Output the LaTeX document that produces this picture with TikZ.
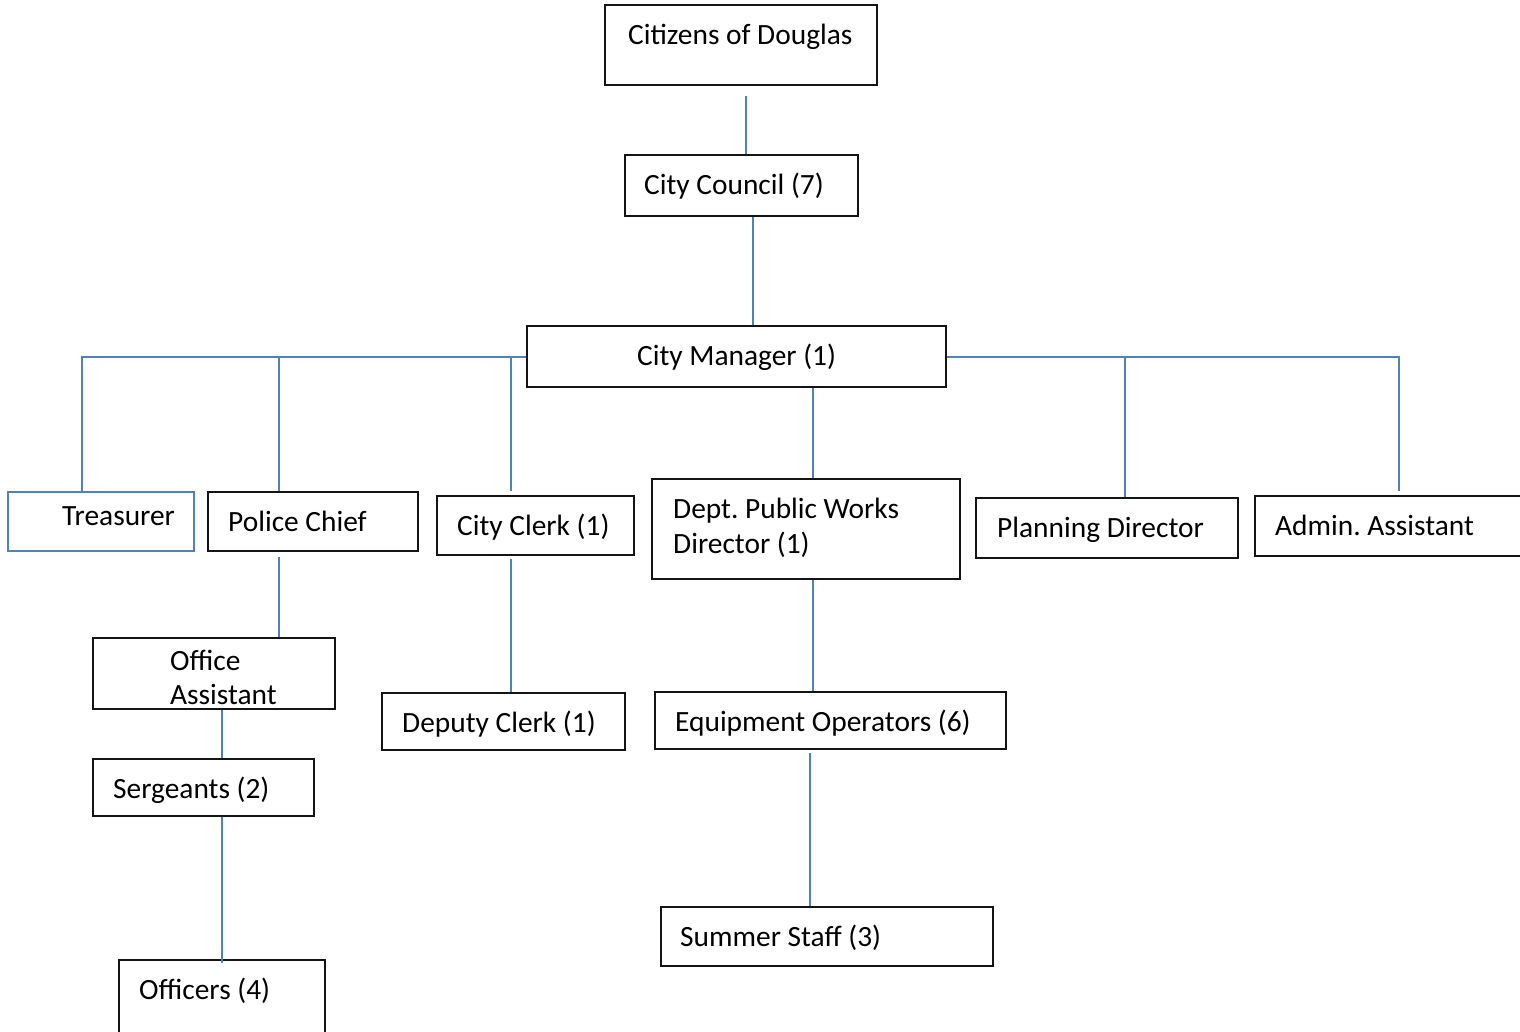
\documentclass[tikz,border=0pt]{standalone}
\usepackage{fontspec}
\setmainfont{Carlito}
\frenchspacing
\definecolor{connblue}{RGB}{79,129,189}
\definecolor{boxline}{RGB}{20,20,20}
\begin{document}
\begin{tikzpicture}[x=1pt,y=-1pt,
  orgbox/.style={draw=boxline,line width=1.4pt,rectangle,inner sep=0pt},
  conn/.style={draw=connblue,line width=2pt},
  lbl/.style={anchor=base west,inner sep=0pt,font=\fontsize{29.4}{35}\selectfont}]
\useasboundingbox (0,0) rectangle (1520,1031);
\clip (0,0) rectangle (1520,1031);
% boxes
\node[orgbox,minimum width=272pt,minimum height=80pt] (cit) at (741,45) {};
\node[orgbox,minimum width=233pt,minimum height=61pt] (cc) at (741.5,185.5) {};
\node[orgbox,minimum width=419pt,minimum height=61pt] (cm) at (736.5,356.5) {};
\node[orgbox,draw=connblue,minimum width=186pt,minimum height=59pt] (tr) at (101,521.5) {};
\node[orgbox,minimum width=210pt,minimum height=59pt] (pc) at (313,521.5) {};
\node[orgbox,minimum width=197pt,minimum height=59pt] (ck) at (535.5,525.5) {};
\node[orgbox,minimum width=308pt,minimum height=100pt] (dpw) at (806,529) {};
\node[orgbox,minimum width=262pt,minimum height=60pt] (pd) at (1107,528) {};
\node[orgbox,minimum width=285pt,minimum height=60pt] (aa) at (1397.5,526) {};
\node[orgbox,minimum width=242pt,minimum height=71pt] (oa) at (214,673.5) {};
\node[orgbox,minimum width=221pt,minimum height=57pt] (sg) at (203.5,787.5) {};
\node[orgbox,minimum width=206pt,minimum height=90pt] (of) at (222,1005) {};
\node[orgbox,minimum width=243pt,minimum height=57pt] (dc) at (503.5,721.5) {};
\node[orgbox,minimum width=351pt,minimum height=57pt] (eo) at (830.5,720.5) {};
\node[orgbox,minimum width=332pt,minimum height=59pt] (ss) at (827,936.5) {};
% labels
\node[lbl] (tcit) at (628,44) {Citizens of Douglas};
\node[lbl] (tcc) at (644,194) {City Council (7)};
\node[lbl] (tcm) at (637,365) {City Manager (1)};
\node[lbl] (ttr) at (62,525) {Treasurer};
\node[lbl] (tpc) at (228,531) {Police Chief};
\node[lbl] (tck) at (457,535) {City Clerk (1)};
\node[lbl] (tdpw1) at (673,518) {Dept. Public Works};
\node[lbl] (tdpw2) at (673,553) {Director (1)};
\node[lbl] (tpd) at (997,537) {Planning Director};
\node[lbl] (taa) at (1275,535) {Admin. Assistant};
\node[lbl] (toa1) at (170,670) {Office};
\node[lbl] (toa2) at (170,704) {Assistant};
\node[lbl] (tsg) at (113,798) {Sergeants (2)};
\node[lbl] (tof) at (139,999) {Officers (4)};
\node[lbl] (tdc) at (402,732) {Deputy Clerk (1)};
\node[lbl] (teo) at (675,731) {Equipment Operators (6)};
\node[lbl] (tss) at (680,946) {Summer Staff (3)};
% connectors
\draw[conn] ([xshift=5pt,yshift=-10pt]cit.south) -- ([xshift=4.5pt]cc.north);
\draw[conn] ([xshift=11.5pt]cc.south) -- ([xshift=16.5pt]cm.north);
\draw[conn] (cm.west) -| ([xshift=-19pt]tr.north);
\draw[conn] ([xshift=-34pt]pc.north) |- (cm.west);
\draw[conn] ([xshift=-24.5pt,yshift=4pt]ck.north) |- (cm.west);
\draw[conn] ([xshift=76.5pt]cm.south) -- ([xshift=7pt]dpw.north);
\draw[conn] (cm.east) -| ([xshift=1.5pt,yshift=4pt]aa.north);
\draw[conn] ([xshift=18pt]pd.north) |- (cm.east);
\draw[conn] ([xshift=-34pt,yshift=-5pt]pc.south) -- ([xshift=65pt]oa.north);
\draw[conn] ([xshift=8pt]oa.south) -- ([xshift=18.5pt]sg.north);
\draw[conn] ([xshift=18.5pt]sg.south) -- ([yshift=-4pt]of.north);
\draw[conn] ([xshift=-24.5pt,yshift=-3pt]ck.south) -- ([xshift=7.5pt]dc.north);
\draw[conn] ([xshift=7pt]dpw.south) -- ([xshift=-17.5pt]eo.north);
\draw[conn] ([xshift=-20.5pt,yshift=-3pt]eo.south) -- ([xshift=-17pt]ss.north);
\end{tikzpicture}
\end{document}
